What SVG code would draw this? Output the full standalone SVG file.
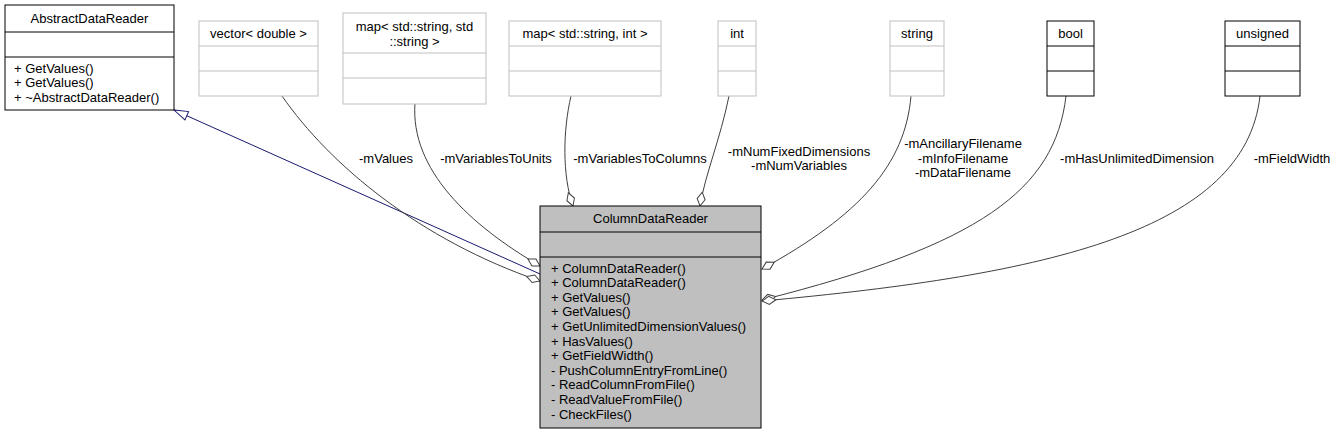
<svg xmlns="http://www.w3.org/2000/svg" width="1337" height="435" viewBox="0 0 1337 435">
<style>
text{font-family:"Liberation Sans",Arial,sans-serif;font-size:13px;fill:#000}
.c{text-anchor:middle}
.gb{fill:#fff;stroke:#bfbfbf;stroke-width:1}
.bb{fill:#fff;stroke:#000;stroke-width:1}
.mb{fill:#bfbfbf;stroke:#000;stroke-width:1}
.e{fill:none;stroke:#404040;stroke-width:1;marker-end:url(#agg)}
.inh{fill:none;stroke:#191970;stroke-width:1;marker-end:url(#tri)}
</style>
<defs>
<marker id="agg" viewBox="0 0 16 10" markerWidth="16" markerHeight="10" refX="15" refY="5" orient="auto" markerUnits="userSpaceOnUse" overflow="visible">
<path d="M15,5 L8,1 L1,5 L8,9 Z" fill="#fff" stroke="#404040" stroke-width="1"/>
</marker>
<marker id="tri" viewBox="0 0 16 10" markerWidth="16" markerHeight="10" refX="15" refY="5" orient="auto" markerUnits="userSpaceOnUse" overflow="visible">
<path d="M15,5 L1,0.5 L1,9.5 Z" fill="#fff" stroke="#191970" stroke-width="1"/>
</marker>
</defs>
<rect width="1337" height="435" fill="#fff"/>

<g id="edges">
<line class="inh" x1="540" y1="274" x2="174" y2="110"/>
<path class="e" d="M282,96 C330,165 420,240 540,281"/>
<path class="e" d="M415,103 C410,170 470,225 540,266"/>
<path class="e" d="M571,96 C563,130 562,175 573,206"/>
<path class="e" d="M729,96 C720,140 705,175 700,206"/>
<path class="e" d="M911,96 C905,165 860,215 762,269"/>
<path class="e" d="M1066,96 C1055,190 980,245 762,300"/>
<path class="e" d="M1260,96 C1245,230 1050,275 762,301"/>
<text class="c" x="386" y="162.5">-mValues</text>
<text class="c" x="496" y="162.5">-mVariablesToUnits</text>
<text class="c" x="640" y="162.5">-mVariablesToColumns</text>
<text class="c" x="799" y="155.5">-mNumFixedDimensions</text>
<text class="c" x="799" y="170">-mNumVariables</text>
<text class="c" x="963" y="148">-mAncillaryFilename</text>
<text class="c" x="963" y="162.5">-mInfoFilename</text>
<text class="c" x="963" y="177">-mDataFilename</text>
<text class="c" x="1137" y="162.5">-mHasUnlimitedDimension</text>
<text class="c" x="1292" y="162.5">-mFieldWidth</text>
</g>

<g id="AbstractDataReader">
<rect class="bb" x="5" y="5" width="169" height="105"/>
<line x1="5" y1="32" x2="174" y2="32" stroke="#000"/>
<line x1="5" y1="57" x2="174" y2="57" stroke="#000"/>
<text class="c" x="89.5" y="22.5">AbstractDataReader</text>
<text x="14" y="72.5">+ GetValues()</text>
<text x="14" y="87">+ GetValues()</text>
<text x="14" y="101.5">+ ~AbstractDataReader()</text>
</g>

<g id="vector_double">
<rect class="gb" x="199" y="21" width="119" height="75"/>
<line x1="199" y1="46" x2="318" y2="46" stroke="#bfbfbf"/>
<line x1="199" y1="71" x2="318" y2="71" stroke="#bfbfbf"/>
<text class="c" x="258.5" y="38">vector&lt; double &gt;</text>
</g>

<g id="map_string_string">
<rect class="gb" x="343" y="13" width="143" height="91"/>
<line x1="343" y1="53" x2="486" y2="53" stroke="#bfbfbf"/>
<line x1="343" y1="78" x2="486" y2="78" stroke="#bfbfbf"/>
<text class="c" x="414.5" y="31">map&lt; std::string, std</text>
<text class="c" x="414.5" y="45.5">::string &gt;</text>
</g>

<g id="map_string_int">
<rect class="gb" x="509" y="21" width="152" height="75"/>
<line x1="509" y1="46" x2="661" y2="46" stroke="#bfbfbf"/>
<line x1="509" y1="71" x2="661" y2="71" stroke="#bfbfbf"/>
<text class="c" x="585" y="38">map&lt; std::string, int &gt;</text>
</g>

<g id="int">
<rect class="gb" x="718" y="21" width="38" height="75"/>
<line x1="718" y1="46" x2="756" y2="46" stroke="#bfbfbf"/>
<line x1="718" y1="71" x2="756" y2="71" stroke="#bfbfbf"/>
<text class="c" x="737" y="38">int</text>
</g>

<g id="string">
<rect class="gb" x="890" y="21" width="54" height="75"/>
<line x1="890" y1="46" x2="944" y2="46" stroke="#bfbfbf"/>
<line x1="890" y1="71" x2="944" y2="71" stroke="#bfbfbf"/>
<text class="c" x="917" y="38">string</text>
</g>

<g id="bool">
<rect class="bb" x="1047" y="21" width="47" height="75"/>
<line x1="1047" y1="46" x2="1094" y2="46" stroke="#000"/>
<line x1="1047" y1="71" x2="1094" y2="71" stroke="#000"/>
<text class="c" x="1070.5" y="38">bool</text>
</g>

<g id="unsigned">
<rect class="bb" x="1225" y="21" width="75" height="75"/>
<line x1="1225" y1="46" x2="1300" y2="46" stroke="#000"/>
<line x1="1225" y1="71" x2="1300" y2="71" stroke="#000"/>
<text class="c" x="1262.5" y="38">unsigned</text>
</g>

<g id="ColumnDataReader">
<rect class="mb" x="540" y="206" width="221" height="222"/>
<line x1="540" y1="232" x2="761" y2="232" stroke="#000"/>
<line x1="540" y1="257" x2="761" y2="257" stroke="#000"/>
<text class="c" x="650.5" y="222.5">ColumnDataReader</text>
<text x="551" y="272.5">+ ColumnDataReader()</text>
<text x="551" y="287.1">+ ColumnDataReader()</text>
<text x="551" y="301.7">+ GetValues()</text>
<text x="551" y="316.3">+ GetValues()</text>
<text x="551" y="330.9">+ GetUnlimitedDimensionValues()</text>
<text x="551" y="345.5">+ HasValues()</text>
<text x="551" y="360.1">+ GetFieldWidth()</text>
<text x="551" y="374.7">- PushColumnEntryFromLine()</text>
<text x="551" y="389.3">- ReadColumnFromFile()</text>
<text x="551" y="403.9">- ReadValueFromFile()</text>
<text x="551" y="418.5">- CheckFiles()</text>
</g>
</svg>
